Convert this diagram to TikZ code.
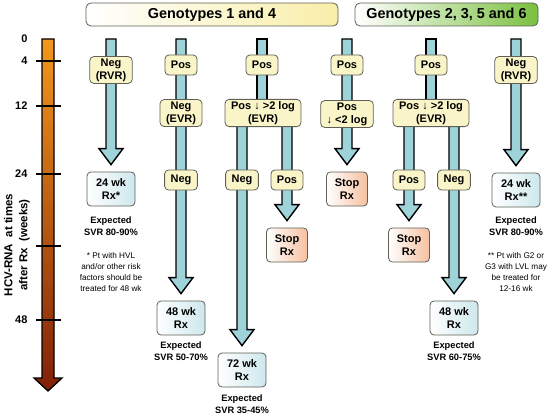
\documentclass[tikz,border=0pt]{standalone}
\usepackage{fontspec}
\setmainfont{Liberation Sans}
\usepackage{tikz}
\usetikzlibrary{calc}
\usetikzlibrary{backgrounds}
\usetikzlibrary{positioning}

\definecolor{shaftblue}{RGB}{158,211,218}
\definecolor{testfill}{RGB}{250,245,200}
\definecolor{boxline}{RGB}{95,95,85}
\definecolor{rxfill}{RGB}{205,232,237}
\definecolor{stopfill}{RGB}{246,192,160}
\definecolor{headyellow}{RGB}{248,238,168}
\definecolor{headgreen}{RGB}{122,192,64}
\definecolor{axtop}{RGB}{242,152,28}
\definecolor{axbot}{RGB}{128,32,8}

% shaft with a block head, stops just above #2
\newcommand{\blockarrow}[2]{%
  \draw[shaft] let \p1=(#1), \p2=(#2) in
    (\x1-5pt,\y1) -- (\x1+5pt,\y1) -- (\x1+5pt,\y2+23pt) -- (\x1+12pt,\y2+23pt)
    -- (\x1,\y2+7pt) -- (\x1-12pt,\y2+23pt) -- (\x1-5pt,\y2+23pt) -- cycle;}
% shaft without a head
\newcommand{\plainshaft}[2]{%
  \draw[shaft] let \p1=(#1), \p2=(#2) in
    (\x1-5pt,\y1) -- (\x1+5pt,\y1) -- (\x1+5pt,\y2) -- (\x1-5pt,\y2) -- cycle;}

\begin{document}
\begin{tikzpicture}[x=1pt,y=-1pt]
          \tikzstyle{every node}=[font=\bfseries\fontsize{11}{13}\selectfont,align=center]
          \tikzstyle{test}=[draw=boxline,fill=testfill,line width=.8pt,rounded corners=4pt,
                            inner xsep=6pt,inner ysep=2pt,minimum height=20pt]
          \tikzstyle{result}=[draw=boxline,line width=.8pt,rounded corners=4pt,left color=white,
                            right color=rxfill,minimum width=48pt,minimum height=34pt]
          \tikzstyle{stop}=[result,right color=stopfill,minimum width=41pt]
          \tikzstyle{header}=[draw=boxline,line width=.8pt,rounded corners=5pt,minimum height=23pt,
                            font=\bfseries\fontsize{14.4}{16}\selectfont]
          \tikzstyle{note}=[font=\bfseries\fontsize{9.3}{11.5}\selectfont]
          \tikzstyle{foot}=[font=\fontsize{8.2}{10.8}\selectfont]
          \tikzstyle{shaft}=[draw=black,fill=shaftblue,line width=1.4pt]
          \tikzstyle{tick}=[line width=1.3pt]
          \useasboundingbox (0,0) rectangle (553,417);
          %
          \node [header,left color=white,right color=headyellow,minimum width=252pt] (g14)   at (212,14.5)   {Genotypes 1 and 4};
          \node [header,left color=white,right color=headgreen,minimum width=183pt]  (g2356) at (446.5,14.5) {Genotypes 2, 3, 5 and 6};
          %
          \coordinate (ax0) at (48,39);
          \coordinate (ax1) at (48,391);
          \path[draw=black,line width=1.3pt,top color=axtop,bottom color=axbot]
            let \p1=(ax0), \p2=(ax1) in
            (\x1-6pt,\y1) -- (\x1+6pt,\y1) -- (\x1+6pt,\y2+13pt) -- (\x1+14pt,\y2+13pt)
            -- (\x1,\y2) -- (\x1-14pt,\y2+13pt) -- (\x1-6pt,\y2+13pt) -- cycle;
          \foreach \yy in {61,106,174,246,320}
            \draw[tick] (36,\yy) -- (61,\yy);
          \foreach \wk/\yy in {0/39,4/61,12/106,24/174,48/320}
            \node [anchor=east] (w\wk) at (31,\yy) {\wk};
          \node [rotate=90,font=\bfseries\fontsize{11.5}{15}\selectfont] (axis) at (17,245) {HCV-RNA\ \ at times\\after Rx\ \ (weeks)};
          %
          \coordinate (c1) at (111,39);
          \node [test]   (n1) at (111,70)  {Neg\\(RVR)};
          \node [result] (r1) at (111,189) {24 wk\\Rx*};
          \node [note]   (e1) at (111,226) {Expected\\SVR 80-90\%};
          \node [foot]   (f1) at (111,272) {* Pt with HVL\\and/or other risk\\factors should be\\treated for 48 wk};
          %
          \coordinate (c2) at (181,39);
          \node [test]   (p2) at (181,65)  {Pos};
          \node [test]   (v2) at (181,113) {Neg\\(EVR)};
          \node [test]   (q2) at (181,180) {Neg};
          \node [result] (r2) at (181,318) {48 wk\\Rx};
          \node [note]   (e2) at (181,351) {Expected\\SVR 50-70\%};
          %
          \coordinate (c3) at (262,39);
          \node [test]   (p3)  at (262,65)  {Pos};
          \node [test]   (v3)  at (263,113) {Pos ↓ >2 log\\(EVR)};
          \node [test]   (q3a) at (242,180) {Neg};
          \node [test]   (q3b) at (287,180) {Pos};
          \node [stop]   (s3)  at (287,245) {Stop\\Rx};
          \node [result] (r3)  at (242,370) {72 wk\\Rx};
          \node [note]   (e3)  at (242,404) {Expected\\SVR 35-45\%};
          %
          \coordinate (c4) at (347,39);
          \node [test]   (p4) at (347,65)  {Pos};
          \node [test]   (v4) at (347,114) {Pos\\↓ <2 log};
          \node [stop]   (s4) at (347,189) {Stop\\Rx};
          %
          \coordinate (c5) at (431,39);
          \node [test]   (p5)  at (431,65)  {Pos};
          \node [test]   (v5)  at (431,113) {Pos ↓ >2 log\\(EVR)};
          \node [test]   (q5a) at (409,180) {Pos};
          \node [test]   (q5b) at (454,180) {Neg};
          \node [stop]   (s5)  at (409,245) {Stop\\Rx};
          \node [result] (r5)  at (454,318) {48 wk\\Rx};
          \node [note]   (e5)  at (454,351) {Expected\\SVR 60-75\%};
          %
          \coordinate (c6) at (516,39);
          \node [test]   (n6) at (516,70)  {Neg\\(RVR)};
          \node [result] (r6) at (516,190) {24 wk\\Rx**};
          \node [note]   (e6) at (516,226) {Expected\\SVR 80-90\%};
          \node [foot]   (f6) at (516,272) {** Pt with G2 or\\G3 with LVL may\\be treated for\\12-16 wk};
          %
          \begin{scope}[on background layer]
            \blockarrow{c1}{r1.north}
            \blockarrow{c2}{r2.north}
            \plainshaft{c3}{v3.center}
            \blockarrow{v3.center -| q3a}{r3.north}
            \blockarrow{v3.center -| q3b}{s3.north}
            \blockarrow{c4}{s4.north}
            \plainshaft{c5}{v5.center}
            \blockarrow{v5.center -| q5a}{s5.north}
            \blockarrow{v5.center -| q5b}{r5.north}
            \blockarrow{c6}{r6.north}
          \end{scope}
        \end{tikzpicture}
\end{document}
